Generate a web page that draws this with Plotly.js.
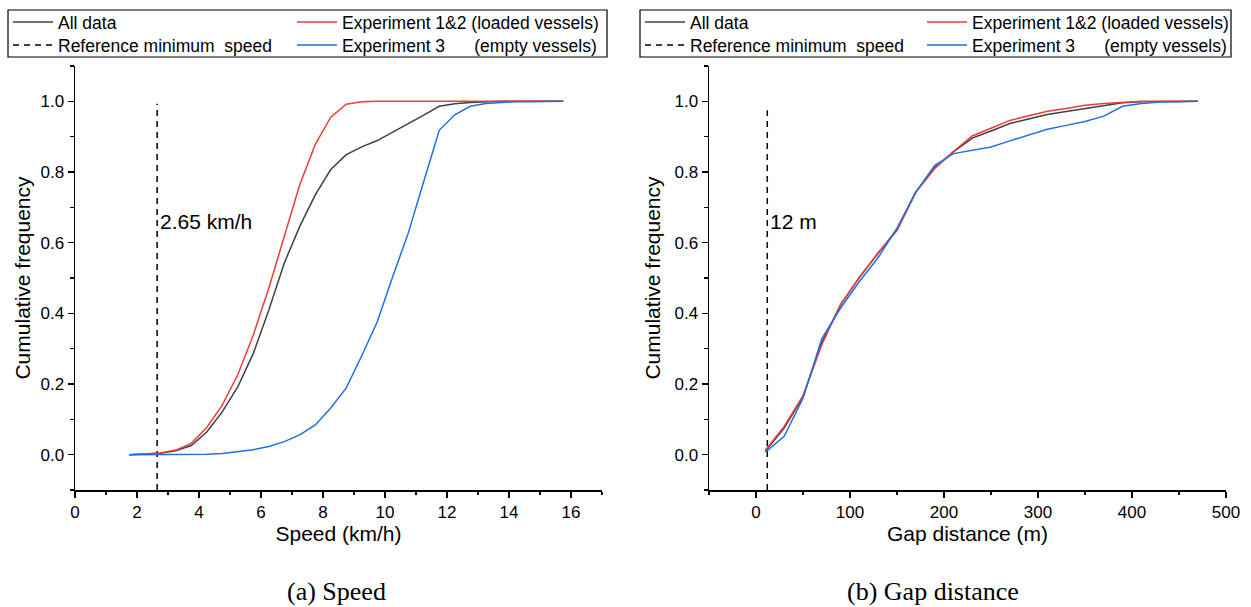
<!DOCTYPE html>
<html>
<head>
<meta charset="utf-8">
<script src="https://cdn.plot.ly/plotly-3.0.1.min.js"></script>
<style>html,body{margin:0;padding:0;background:#fff;}</style>
</head>
<body>
<div id="chart" style="width:1251px;height:607px;"></div>
<script>
// ---- Data: speed CDF ----
var speedX = [1.75, 2.25, 2.75, 3.25, 3.75, 4.25, 4.75, 5.25, 5.75, 6.25, 6.75, 7.25, 7.75, 8.25, 8.75,
              9.25, 9.75, 10.25, 10.75, 11.25, 11.75, 12.25, 12.75, 13.25, 13.75, 14.25, 14.75, 15.25, 15.75];
var speedAll = [0.000, 0.002, 0.004, 0.011, 0.026, 0.064, 0.121, 0.192, 0.286, 0.409, 0.542, 0.646, 0.735, 0.807, 0.849,
                0.871, 0.889, 0.913, 0.936, 0.961, 0.986, 0.993, 0.997, 0.999, 1.000, 1.000, 1.000, 1.000, 1.000];
var speedExp12 = [0.000, 0.002, 0.005, 0.013, 0.032, 0.077, 0.140, 0.226, 0.338, 0.471, 0.615, 0.764, 0.878, 0.955, 0.992,
                  0.999, 1.000, 1.000, 1.000, 1.000, 1.000, 1.000, 1.000, 1.000, 1.000, 1.000, 1.000, 1.000, 1.000];
var speedExp3 = [0.000, 0.000, 0.000, 0.000, 0.000, 0.001, 0.003, 0.008, 0.014, 0.023, 0.037, 0.056, 0.084, 0.132, 0.189,
                 0.280, 0.376, 0.504, 0.627, 0.773, 0.918, 0.962, 0.986, 0.994, 0.997, 0.999, 0.999, 1.000, 1.000];
var speedRefX = [2.65, 2.65];
var speedRefY = [-0.1, 0.993];

// ---- Data: gap distance CDF ----
var gapX = [10, 30, 50, 70, 90, 110, 130, 150, 170, 190, 210, 230, 250, 270, 290, 310, 330, 350, 370, 390, 410, 430, 450, 470];
var gapAll = [0.010, 0.075, 0.164, 0.318, 0.424, 0.502, 0.570, 0.637, 0.743, 0.812, 0.857, 0.896, 0.916, 0.937, 0.950, 0.963,
              0.971, 0.979, 0.988, 0.996, 0.999, 1.000, 1.000, 1.000];
var gapExp12 = [0.013, 0.080, 0.167, 0.311, 0.425, 0.501, 0.572, 0.634, 0.743, 0.809, 0.858, 0.902, 0.924, 0.946, 0.959, 0.972,
                0.980, 0.989, 0.994, 0.997, 1.000, 1.000, 1.000, 1.000];
var gapExp3 = [0.007, 0.052, 0.160, 0.328, 0.415, 0.490, 0.558, 0.641, 0.743, 0.818, 0.852, 0.862, 0.871, 0.888, 0.905, 0.921,
               0.932, 0.943, 0.958, 0.986, 0.994, 0.998, 0.999, 1.000];
var gapRefX = [12, 12];
var gapRefY = [-0.1, 0.975];

// ---- Labels ----
var seriesNames = ['All data', 'Reference minimum\u00a0\u00a0speed', 'Experiment 1&2 (loaded vessels)',
                   'Experiment 3\u00a0\u00a0\u00a0\u00a0\u00a0\u00a0(empty vessels)'];
var speedRefLabel = '2.65 km/h';
var gapRefLabel = '12 m';
var captions = ['(a) Speed', '(b) Gap distance'];
var xTitles = ['Speed (km/h)', 'Gap distance (m)'];
var yTitle = 'Cumulative frequency';

var cGray = '#404040', cRed = '#ee3b3b', cBlue = '#1f70e0';
var FONT = 'Arial, "Liberation Sans", sans-serif';

// pixel -> paper helpers (plot area: x 75..1226, y 66..490)
var ML = 75, MR = 25, MT = 66, MB = 117, W = 1251, H = 607;
var PW = W - ML - MR, PH = H - MT - MB;
function px(x) { return (x - ML) / PW; }
function py(y) { return (H - MB - y) / PH; }

function line(x, y, color, name, xa, ya, leg, dash) {
  return {x: x, y: y, type: 'scatter', mode: 'lines', name: name, xaxis: xa, yaxis: ya, legend: leg,
          line: {color: color, width: 1.5, dash: dash || 'solid'}, hoverinfo: 'x+y'};
}

var DASH = '6px,5px';
var traces = [
  line(speedX, speedAll, cGray, seriesNames[0], 'x', 'y', 'legend'),
  line(speedRefX, speedRefY, '#000', seriesNames[1], 'x', 'y', 'legend2', DASH),
  line(speedX, speedExp12, cRed, seriesNames[2], 'x', 'y', 'legend3'),
  line(speedX, speedExp3, cBlue, seriesNames[3], 'x', 'y', 'legend4'),
  line(gapX, gapAll, cGray, seriesNames[0], 'x2', 'y2', 'legend5'),
  line(gapRefX, gapRefY, '#000', seriesNames[1], 'x2', 'y2', 'legend6', DASH),
  line(gapX, gapExp12, cRed, seriesNames[2], 'x2', 'y2', 'legend7'),
  line(gapX, gapExp3, cBlue, seriesNames[3], 'x2', 'y2', 'legend8')
];

function xax(domain, range, dtick, mdtick, title) {
  return {domain: domain, range: range, dtick: dtick, tick0: 0, showgrid: false, zeroline: false,
          showline: true, linecolor: '#000', linewidth: 1.5, ticks: 'outside', ticklen: 6, tickwidth: 1.5,
          tickcolor: '#000', mirror: false, automargin: false,
          minor: {dtick: mdtick, ticks: 'outside', ticklen: 3.5, tickwidth: 1.3, tickcolor: '#000', showgrid: false},
          tickfont: {family: FONT, size: 17, color: '#000'},
          title: {text: title, font: {family: FONT, size: 21, color: '#000'}, standoff: 4}};
}
function yax(anchor, standoff) {
  return {domain: [0, 1], range: [-0.1, 1.1], dtick: 0.2, tick0: 0, tickformat: '.1f', anchor: anchor,
          showgrid: false, zeroline: false, showline: true, linecolor: '#000', linewidth: 1.5, automargin: false,
          ticks: 'outside', ticklen: 6, tickwidth: 1.5, tickcolor: '#000',
          minor: {dtick: 0.1, ticks: 'outside', ticklen: 3.5, tickwidth: 1.3, tickcolor: '#000', showgrid: false},
          tickfont: {family: FONT, size: 17, color: '#000'},
          title: {text: yTitle, font: {family: FONT, size: 21, color: '#000'}, standoff: standoff}};
}

// single-entry legends placed on a 2x2 grid inside each legend box
function leg(textX, rowY) {
  return {x: px(textX - 50), y: py(rowY), xanchor: 'left', yanchor: 'middle', orientation: 'v',
          bgcolor: 'rgba(0,0,0,0)', borderwidth: 0, itemwidth: 40, tracegroupgap: 0,
          font: {family: FONT, size: 17.5, color: '#000'}};
}

function box(x0, x1) {
  return {type: 'rect', xref: 'paper', yref: 'paper', x0: px(x0), x1: px(x1), y0: py(57), y1: py(10),
          line: {color: '#000', width: 1.2}, fillcolor: 'rgba(0,0,0,0)'};
}

var layout = {
  width: W, height: H,
  margin: {l: ML, r: MR, t: MT, b: MB, autoexpand: false},
  paper_bgcolor: '#fff', plot_bgcolor: '#fff',
  showlegend: true,
  xaxis: xax([0, px(602)], [0, 17], 2, 1, xTitles[0]),
  yaxis: yax('x', 4),
  xaxis2: Object.assign(xax([px(709), 1], [-50, 500], 100, 50, xTitles[1]), {anchor: 'y2'}),
  yaxis2: yax('x2', 8),
  legend: leg(58, 22),
  legend2: leg(58, 45),
  legend3: leg(342, 22),
  legend4: leg(342, 45),
  legend5: leg(690, 22),
  legend6: leg(690, 45),
  legend7: leg(972, 22),
  legend8: leg(972, 45),
  shapes: [box(8, 607), box(640, 1231)],
  annotations: [
    {xref: 'x', yref: 'y', x: speedRefX[0], y: 0.66, text: speedRefLabel, showarrow: false, xanchor: 'left',
     xshift: 1, font: {family: FONT, size: 21, color: '#000'}},
    {xref: 'x2', yref: 'y2', x: gapRefX[0], y: 0.66, text: gapRefLabel, showarrow: false, xanchor: 'left',
     xshift: 1, font: {family: FONT, size: 21, color: '#000'}},
    {xref: 'paper', yref: 'paper', x: px(336), y: py(591), text: captions[0], showarrow: false,
     xanchor: 'center', yanchor: 'middle', font: {family: '"Times New Roman", "Liberation Serif", serif', size: 26, color: '#000'}},
    {xref: 'paper', yref: 'paper', x: px(933), y: py(591), text: captions[1], showarrow: false,
     xanchor: 'center', yanchor: 'middle', font: {family: '"Times New Roman", "Liberation Serif", serif', size: 26, color: '#000'}}
  ]
};

Plotly.newPlot('chart', traces, layout, {displayModeBar: false, staticPlot: true});
</script>
</body>
</html>
